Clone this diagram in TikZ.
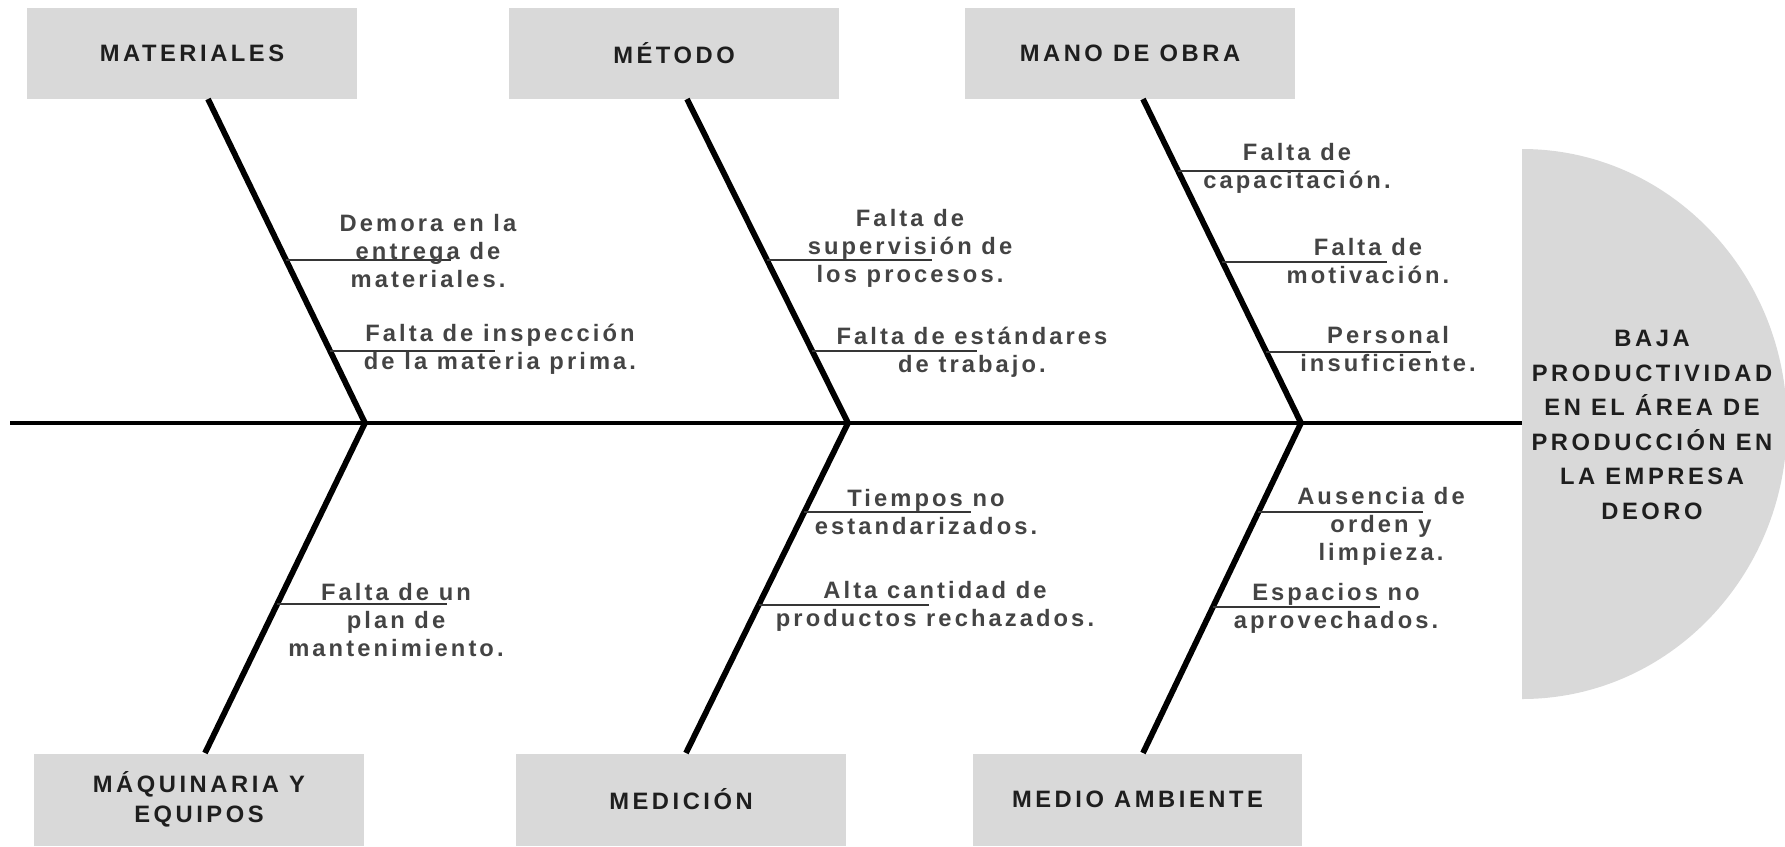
\documentclass[tikz,border=0pt]{standalone}
\usepackage{fontspec}
\setmainfont{Liberation Sans}
\newfontfamily\headfam[LetterSpace=15]{Liberation Sans}
\newfontfamily\causefam[LetterSpace=13]{Liberation Sans}
\usetikzlibrary{calc}
\definecolor{boxgray}{HTML}{D9D9D9}
\definecolor{headtxt}{HTML}{1E1E1E}
\definecolor{causetxt}{HTML}{444444}
\definecolor{twiggray}{HTML}{363636}

\begin{document}
\begin{tikzpicture}[x=0.02cm,y=-0.02cm,
  cat/.style={fill=boxgray,minimum width=6.6cm,minimum height=1.84cm,inner sep=0pt,align=center,
    text=headtxt,font=\headfam\bfseries\fontsize{13.5}{17}\selectfont},
  effect/.style={align=center,inner sep=0pt,text=headtxt,font=\headfam\bfseries\fontsize{13.5}{19.7}\selectfont},
  cause/.style={align=center,inner sep=0pt,text=causetxt,font=\causefam\bfseries\fontsize{13.5}{15.9}\selectfont},
  bone/.style={line width=3.3pt,line join=miter},
  spine/.style={line width=2.6pt},
  twig/.style={draw=twiggray,line width=1.2pt}]
\useasboundingbox (0,0) rectangle (1785,846);

% cabeza del pescado
\begin{scope}
  \clip (1522,0) rectangle (1785,846);
  \fill[boxgray] (1522,424) ellipse[x radius=265,y radius=275];
\end{scope}
\node[effect] (efecto) at (1652,425) {BAJA\\PRODUCTIVIDAD\\EN EL ÁREA DE\\PRODUCCIÓN EN\\LA EMPRESA\\DEORO};

% categorias
\node[cat] (mat) at (192,53.5) {MATERIALES};
\node[cat] (met) at (674,53.5) {MÉTODO};
\node[cat] (mano) at (1130,53.5) {MANO DE OBRA};
\node[cat] (maq) at (199,799.5) {MÁQUINARIA Y\\EQUIPOS};
\node[cat] (med) at (681,799.5) {MEDICIÓN};
\node[cat] (amb) at (1137.5,799.5) {MEDIO AMBIENTE};

% espina
\coordinate (cola) at (10,423);
\coordinate (hd) at (1522,423);
\coordinate (v1) at (365,423);
\coordinate (v2) at (848,423);
\coordinate (v3) at (1301,423);
\coordinate (t1) at (208,99);
\coordinate (t2) at (687,99);
\coordinate (t3) at (1143,99);
\coordinate (b1) at (205,753);
\coordinate (b2) at (686,753);
\coordinate (b3) at (1143,753);
\draw[spine] (cola) -- (hd);
\draw[bone] (t1) -- (v1) -- (b1);
\draw[bone] (t2) -- (v2) -- (b2);
\draw[bone] (t3) -- (v3) -- (b3);

% causas
\draw[twig] ($(t1)!.497!(v1)$) -- +(165,0);
\node[cause] (c11) at (428,251) {Demora en la\\entrega de\\materiales.};
\draw[twig] ($(t1)!.778!(v1)$) -- +(165,0);
\node[cause] (c12) at (500,349) {Falta de inspección\\de la materia prima.};

\draw[twig] ($(t2)!.497!(v2)$) -- +(165,0);
\node[cause] (c21) at (910,248) {Falta de\\supervisión de\\los procesos.};
\draw[twig] ($(t2)!.778!(v2)$) -- +(165,0);
\node[cause] (c22) at (972,352) {Falta de estándares\\de trabajo.};

\draw[twig] ($(t3)!.222!(v3)$) -- +(165,0);
\node[cause] (c31) at (1297,168) {Falta de\\capacitación.};
\draw[twig] ($(t3)!.503!(v3)$) -- +(165,0);
\node[cause] (c32) at (1368,261) {Falta de\\motivación.};
\draw[twig] ($(t3)!.781!(v3)$) -- +(165,0);
\node[cause] (c33) at (1388,349) {Personal\\insuficiente.};

\draw[twig] ($(v1)!.548!(b1)$) -- +(170,0);
\node[cause] (c41) at (396,620) {Falta de un\\plan de\\mantenimiento.};

\draw[twig] ($(v2)!.27!(b2)$) -- +(167,0);
\node[cause] (c51) at (926,512) {Tiempos no\\estandarizados.};
\draw[twig] ($(v2)!.552!(b2)$) -- +(170,0);
\node[cause] (c52) at (935,606) {Alta cantidad de\\productos rechazados.};

\draw[twig] ($(v3)!.27!(b3)$) -- +(165,0);
\node[cause] (c61) at (1381,526) {Ausencia de\\orden y\\limpieza.};
\draw[twig] ($(v3)!.558!(b3)$) -- +(167,0);
\node[cause] (c62) at (1336,608) {Espacios no\\aprovechados.};
\end{tikzpicture}
\end{document}
